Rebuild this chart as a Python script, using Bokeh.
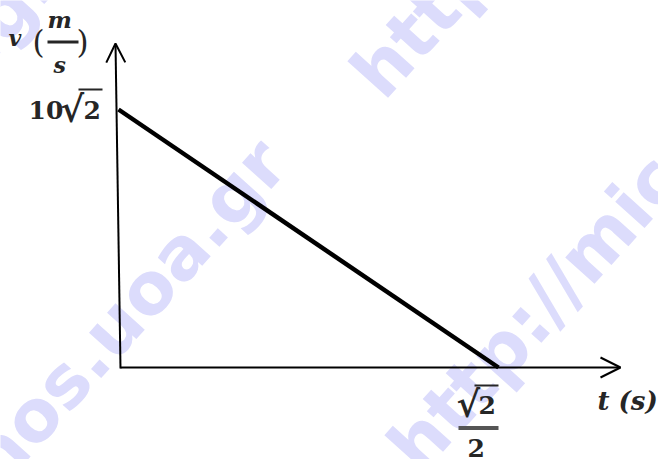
import math
from bokeh.plotting import figure
from bokeh.models import Range1d, Label, Arrow, OpenHead
from bokeh.embed import file_html
from bokeh.resources import INLINE

# ---------------- data ----------------
t_values = [0.0, 0.7071]     # t in s  (0 and sqrt(2)/2)
v_values = [14.142, 0.0]     # v in m/s (10*sqrt(2) and 0)
y_tick_text = ["10", "\u221a", "2"]          # 10√2
x_tick_num = ["\u221a", "2"]                  # √2
x_tick_den = "2"
x_axis_label = "t (s)"
y_axis_var = "v"
y_unit_num = "m"
y_unit_den = "s"
watermark = "http://micro-kosmos.uoa.gr"

# ---------------- layout ----------------
W, H = 658, 459
OX, OY = 0, 0
px_t0, px_t1 = 118, 498      # pixel columns of t=0 and t=sqrt2/2
py_v0, py_v1 = 367, 109      # pixel rows of v=0 and v=10sqrt2

sx = (px_t1 - px_t0) / (t_values[1] - t_values[0])
sy = (py_v0 - py_v1) / (v_values[0] - v_values[1])


def X(px):
    return t_values[0] + (px - px_t0) / sx


def Y(py):
    return v_values[1] + (py_v0 - py) / sy


p = figure(width=W, height=H,
           x_range=Range1d(X(OX), X(OX + W)),
           y_range=Range1d(Y(OY + H), Y(OY)),
           output_backend="svg", toolbar_location=None,
           x_axis_location=None, y_axis_location=None,
           min_border=0)
p.grid.visible = False
p.outline_line_color = None
p.background_fill_color = "white"

TXT = "#262626"
WM = "#dcdcfc"

# watermark
def wm(px, py, align):
    p.add_layout(Label(x=X(px), y=Y(py), text=watermark, text_font="DejaVu Sans",
                       text_font_style="bold", text_font_size="72px", text_color=WM,
                       text_align=align, text_baseline="alphabetic",
                       angle=math.radians(48), level="underlay"))

wm(272, 150, "right")
wm(365, 85, "left")
wm(402, 459, "left")
wm(45, -35, "right")

# axes as arrows
p.add_layout(Arrow(end=OpenHead(size=20, line_width=2, line_color="black"),
                   x_start=X(120), y_start=Y(367), x_end=X(620), y_end=Y(367),
                   line_width=2, line_color="black"))
p.add_layout(Arrow(end=OpenHead(size=19, line_width=2, line_color="black"),
                   x_start=X(120), y_start=Y(368), x_end=X(115), y_end=Y(43),
                   line_width=2, line_color="black"))

# the v-t line
p.line(t_values, v_values, line_width=4.5, line_color="black")


def lab(text, px, py, size, style="bold", font="DejaVu Serif", align="left"):
    py = py - 0.36 * size   # compensate renderer's baseline offset
    p.add_layout(Label(x=X(px), y=Y(py), text=text, text_font=font,
                       text_font_size=f"{size}px", text_font_style=style,
                       text_color=TXT, text_align=align, text_baseline="alphabetic"))


# y axis label v (m/s)
lab(y_axis_var, 8, 45, 22, "bold italic")
lab("(", 32, 53, 31, "normal")
lab(y_unit_num, 47, 27, 23, "bold italic")
lab(y_unit_den, 53, 72, 22, "bold italic")
lab(")", 76, 53, 31, "normal")
p.segment(x0=[X(47)], y0=[Y(41.5)], x1=[X(78)], y1=[Y(41.5)], line_width=3, line_color=TXT)

# y tick 10√2
lab(y_tick_text[0], 28, 118, 25)
lab(y_tick_text[1], 60, 121, 36)
lab(y_tick_text[2], 83, 118, 25)
p.segment(x0=[X(78)], y0=[Y(89)], x1=[X(102)], y1=[Y(89)], line_width=2, line_color=TXT)

# x tick √2 / 2
lab(x_tick_num[0], 456, 416, 36)
lab(x_tick_num[1], 478, 413, 25)
p.segment(x0=[X(474)], y0=[Y(385)], x1=[X(498)], y1=[Y(385)], line_width=2, line_color=TXT)
p.segment(x0=[X(458)], y0=[Y(427.5)], x1=[X(498)], y1=[Y(427.5)], line_width=4, line_color="#555555")
lab(x_tick_den, 467, 456, 25)

# x axis label t (s)
lab(x_axis_label, 597, 410, 26, "bold italic")

open("out.html", "w").write(file_html(p, INLINE))
